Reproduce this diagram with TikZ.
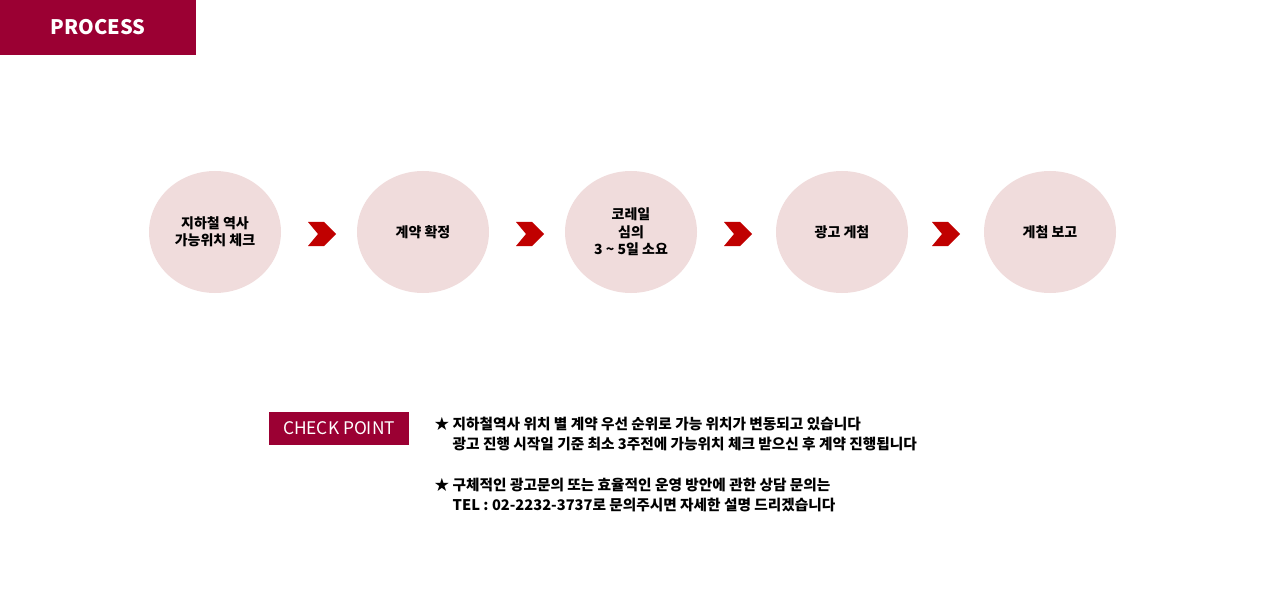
\documentclass[tikz,border=0pt]{standalone}
\usepackage{fontspec}
\setmainfont{Noto Sans CJK KR}
\definecolor{wine}{HTML}{9B0033}
\definecolor{pinkc}{HTML}{F0DCDC}
\definecolor{chev}{HTML}{C00000}
\begin{document}
\begin{tikzpicture}[x=0.75pt,y=-0.75pt,
  stepcirc/.style={ellipse,fill=pinkc,minimum width=99pt,minimum height=91.5pt,inner sep=0pt,align=center,font=\fontsize{10.5}{13}\selectfont\bfseries},
  chevron/.style={fill=chev}]
\useasboundingbox (0,0) rectangle (1271,613);
\usetikzlibrary{shapes.geometric}
\fill[wine] (0,0) rectangle (196,55);
\node[text=white,font=\fontsize{15}{18}\selectfont\bfseries] (title) at (98,27) {PROCESS};
\node[stepcirc] (s1) at (215,232) {지하철 역사\\가능위치 체크};
\node[stepcirc] (s2) at (423,232) {계약 확정};
\node[stepcirc] (s3) at (631,232) {코레일\\심의\\3 \textasciitilde{} 5일 소요};
\node[stepcirc] (s4) at (842,232) {광고 게첨};
\node[stepcirc] (s5) at (1050,232) {게첨 보고};
\foreach \cx/\n in {322/a,530/b,738/c,946/d}{
  \fill[chevron] (\cx-14,222) -- (\cx+2,222) -- (\cx+14,234) -- (\cx+2,246) -- (\cx-14,246) -- (\cx-4,234) -- cycle;
}
\fill[wine] (269,412) rectangle (409,445);
\node[text=white,font=\fontsize{13}{15}\selectfont] (cp) at (339,428) {CHECK POINT};
\node[anchor=west,align=left,font=\fontsize{11}{15}\selectfont\bfseries] (t1) at (430,434) {★ 지하철역사 위치 별 계약 우선 순위로 가능 위치가 변동되고 있습니다\\\phantom{★ }광고 진행 시작일 기준 최소 3주전에 가능위치 체크 받으신 후 계약 진행됩니다};
\node[anchor=west,align=left,font=\fontsize{11}{15}\selectfont\bfseries] (t2) at (430,495) {★ 구체적인 광고문의 또는 효율적인 운영 방안에 관한 상담 문의는\\\phantom{★ }TEL : 02-2232-3737로 문의주시면 자세한 설명 드리겠습니다};
\end{tikzpicture}
\end{document}
